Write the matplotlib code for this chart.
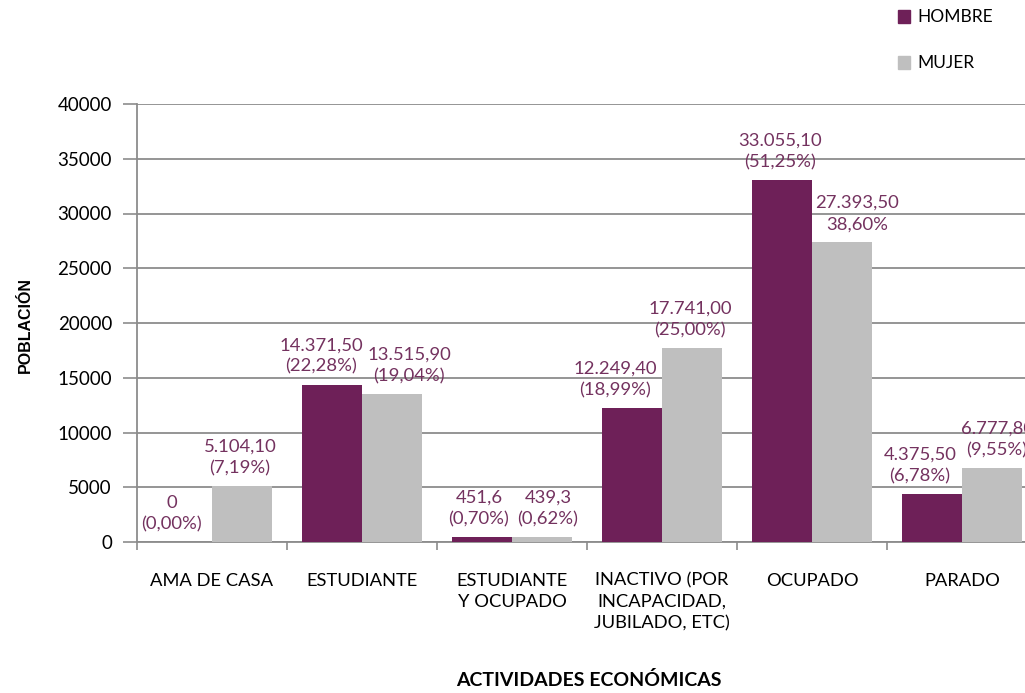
import matplotlib.pyplot as plt
from matplotlib.ticker import FixedLocator, NullFormatter

# data
actividades = ["AMA DE CASA", "ESTUDIANTE", "ESTUDIANTE\nY OCUPADO",
               "INACTIVO (POR\nINCAPACIDAD,\nJUBILADO, ETC)", "OCUPADO", "PARADO"]
hombre = [0, 14371.5, 451.6, 12249.4, 33055.1, 4375.5]
mujer = [5104.1, 13515.9, 439.3, 17741.0, 27393.5, 6777.8]
hombre_lbl = ["0\n(0,00%)", "14.371,50\n(22,28%)", "451,6\n(0,70%)",
              "12.249,40\n(18,99%)", "33.055,10\n(51,25%)", "4.375,50\n(6,78%)"]
mujer_lbl = ["5.104,10\n(7,19%)", "13.515,90\n(19,04%)", "439,3\n(0,62%)",
             "17.741,00\n(25,00%)", "27.393,50\n38,60%", "6.777,80\n(9,55%)"]
yticks = [0, 5000, 10000, 15000, 20000, 25000, 30000, 35000, 40000]

# horizontal nudges of the data labels (pixels), as they were moved in the original
h_shift = [-10, -11, -3, -17, -2, -12]
m_shift = [-2, 17, 6, -2, 15, 5]

PURPLE = "#6E2058"
GRAY = "#BFBFBF"
LBL = "#74325F"
GRID = "#8C8C8C"

plt.rcParams['font.family'] = ['Lato', 'DejaVu Sans']

W, H = 1025, 693
fig = plt.figure(figsize=(W / 100, H / 100), dpi=100)
ax = fig.add_axes([137 / W, 151 / H, 900 / W, 438 / H])

x = list(range(len(actividades)))
bw = 0.4
ax.bar([i - bw / 2 for i in x], hombre, bw, color=PURPLE, zorder=3, label="HOMBRE")
ax.bar([i + bw / 2 for i in x], mujer, bw, color=GRAY, zorder=3, label="MUJER")

for i in x:
    ax.annotate(hombre_lbl[i], (i - bw / 2, hombre[i]), xytext=(h_shift[i] * 0.72, 7),
                textcoords='offset points', ha='center', va='bottom',
                color=LBL, fontsize=13.3, linespacing=1.42, zorder=4)
    ax.annotate(mujer_lbl[i], (i + bw / 2, mujer[i]), xytext=(m_shift[i] * 0.72, 7),
                textcoords='offset points', ha='center', va='bottom',
                color=LBL, fontsize=13.3, linespacing=1.42, zorder=4,
                annotation_clip=False)

ax.set_xlim(-0.5, len(actividades) - 0.5)
ax.set_ylim(0, 40000)
ax.set_yticks(yticks)
ax.set_yticklabels([str(v) for v in yticks], fontsize=13.5)
ax.yaxis.grid(True, color=GRID, linewidth=1.3, zorder=0)

ax.set_xticks(x)
ax.set_xticklabels(actividades, fontsize=13.2, linespacing=1.4, va='top')
ax.tick_params(axis='x', which='major', length=0, pad=22)
ax.xaxis.set_minor_locator(FixedLocator([i - 0.5 for i in x]))
ax.xaxis.set_minor_formatter(NullFormatter())
ax.tick_params(axis='x', which='minor', length=6, width=1.2, color=GRID, direction='out')
ax.tick_params(axis='y', length=10, width=1.2, color=GRID, pad=8)

for s in ['top', 'right']:
    ax.spines[s].set_visible(False)
for s in ['left', 'bottom']:
    ax.spines[s].set_color(GRID)
    ax.spines[s].set_linewidth(1.3)

fig.text(589 / W, 1 - 680 / H, "ACTIVIDADES ECONÓMICAS", ha='center', va='center',
         fontsize=14, fontweight='bold')
fig.text(25 / W, 1 - 325 / H, "POBLACIÓN", ha='center', va='center', rotation=90,
         fontsize=11.5, fontweight='bold', family=['Liberation Sans', 'DejaVu Sans'])

# legend drawn by hand in figure pixels
fig.patches.append(plt.Rectangle((898 / W, 1 - 23 / H), 12 / W, 13 / H,
                                 transform=fig.transFigure, color=PURPLE))
fig.patches.append(plt.Rectangle((898 / W, 1 - 69 / H), 12 / W, 13 / H,
                                 transform=fig.transFigure, color=GRAY))
fig.text(917 / W, 1 - 17 / H, "HOMBRE", ha='left', va='center', fontsize=12.5)
fig.text(917 / W, 1 - 63 / H, "MUJER", ha='left', va='center', fontsize=12.5)

fig.savefig("out.png", dpi=100)
